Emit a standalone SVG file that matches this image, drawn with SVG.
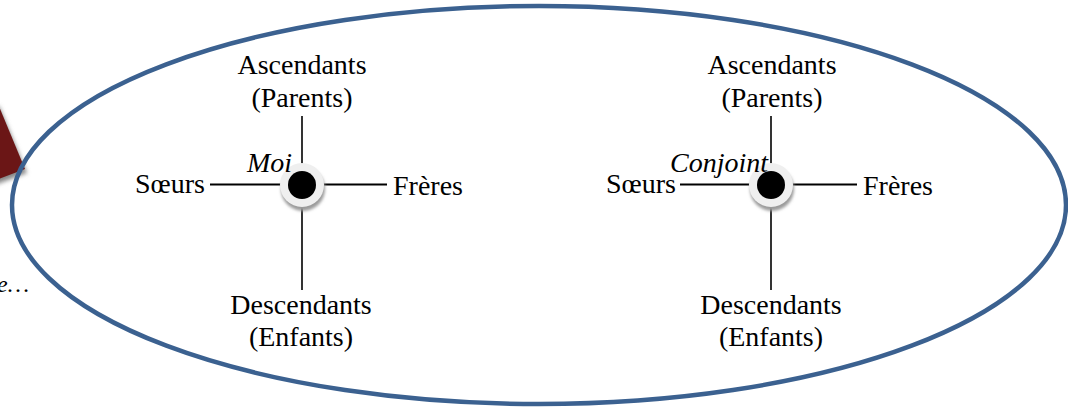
<svg xmlns="http://www.w3.org/2000/svg" width="1068" height="410" viewBox="0 0 1068 410">
<style>
.lbl{font-family:"Liberation Serif","Times New Roman",serif;font-size:28px;fill:#000}
.it{font-style:italic}
.mid{text-anchor:middle}
.end{text-anchor:end}
.v{stroke:#000;stroke-width:1.6;fill:none}
.h{stroke:#000;stroke-width:2;fill:none}
.ring{fill:#efefef}
.shadow{fill:#9a9a9a;filter:url(#blur)}
.dot{fill:#000}
</style>
<defs>
<filter id="blur" x="-50%" y="-50%" width="200%" height="200%"><feGaussianBlur stdDeviation="1.5"/></filter>
<filter id="sblur" x="-50%" y="-50%" width="200%" height="200%"><feGaussianBlur stdDeviation="2"/></filter>
</defs>
<rect width="1068" height="410" fill="#fff"/>
<g id="red-tab">
<polygon points="-12,184 26,170 -2,103 -40,118" fill="#888" filter="url(#sblur)" transform="translate(1,3)"/>
<polygon points="-12,183 25,169 -2,104 -40,118" fill="#6b1616"/>
</g>
<g id="side-text"><text class="lbl it end" x="29" y="292" font-size="24" style="font-size:24px">e…</text></g>
<g id="frame"><ellipse cx="539" cy="205" rx="527" ry="199" fill="none" stroke="#3b6190" stroke-width="4.5"/></g>
<g id="connectors">
<line class="v" x1="302" y1="116" x2="302" y2="290"/>
<line class="h" x1="210" y1="184.5" x2="387" y2="184.5"/>
<line class="v" x1="771" y1="116" x2="771" y2="290"/>
<line class="h" x1="680" y1="184.5" x2="857" y2="184.5"/>
</g>
<g id="moi"><circle class="shadow" cx="303" cy="189" r="22"/><circle class="ring" cx="302" cy="185" r="22"/><circle class="dot" cx="302" cy="185" r="14"/><text class="lbl it" x="247" y="172">Moi</text></g>
<g id="conjoint"><circle class="shadow" cx="772" cy="189" r="22"/><circle class="ring" cx="771" cy="185" r="22"/><circle class="dot" cx="771" cy="185" r="14"/><text class="lbl it" x="670" y="172">Conjoint</text></g>
<g id="asc-left"><text class="lbl mid" x="302" y="74">Ascendants</text><text class="lbl mid" x="302" y="107">(Parents)</text></g>
<g id="desc-left"><text class="lbl mid" x="301" y="314">Descendants</text><text class="lbl mid" x="301" y="346">(Enfants)</text></g>
<g id="soeurs-left"><text class="lbl end" x="205" y="193">Sœurs</text></g>
<g id="freres-left"><text class="lbl" x="393" y="195">Frères</text></g>
<g id="asc-right"><text class="lbl mid" x="772" y="74">Ascendants</text><text class="lbl mid" x="772" y="107">(Parents)</text></g>
<g id="desc-right"><text class="lbl mid" x="771" y="314">Descendants</text><text class="lbl mid" x="771" y="346">(Enfants)</text></g>
<g id="soeurs-right"><text class="lbl end" x="676" y="193">Sœurs</text></g>
<g id="freres-right"><text class="lbl" x="863" y="195">Frères</text></g>
</svg>
